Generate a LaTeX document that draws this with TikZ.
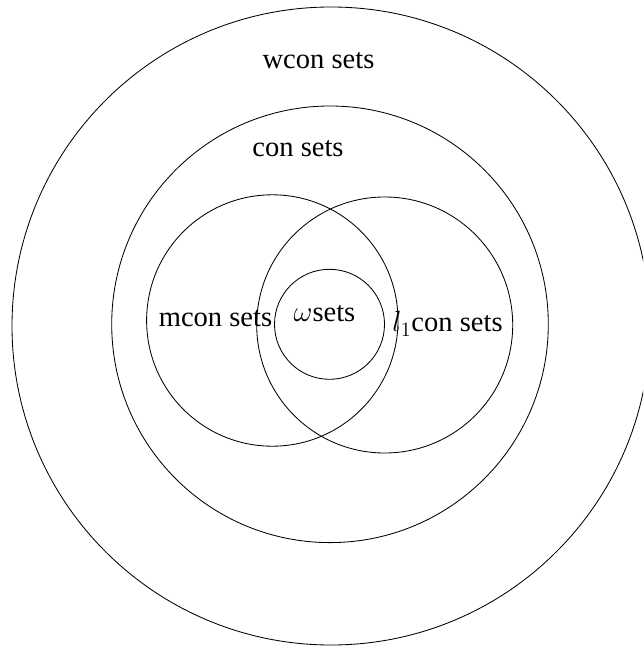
\documentclass[tikz,border=0pt]{standalone}
\usepackage{fontspec}
\setmainfont{Liberation Serif}
\usepackage{tikz}
\usetikzlibrary{positioning}

\tikzset{
    setline/.style={draw=black, line width=0.6pt},
    setlabel/.style={anchor=base, inner sep=0pt, font=\fontsize{20.3pt}{24pt}\selectfont}
}

\begin{document}
\begin{tikzpicture}[x=0.025cm, y=-0.025cm]
    % Page
    \clip (0,0) rectangle (643,648);

    % Centres
    \coordinate (wconC) at (331, 326);
    \coordinate (conC) at (330, 324.3);
    \coordinate (mconC) at (272.3, 320.5);
    \coordinate (lconC) at (384.7, 325);
    \coordinate (omegaC) at (329.5, 324.3);

    % Circles
    \draw[setline] (wconC) circle (319);
    \draw[setline] (conC) circle (218.3);
    \draw[setline] (mconC) circle (125.7);
    \draw[setline] (lconC) circle (128);
    \draw[setline] (omegaC) circle (55);

    % Labels
    \node[setlabel] (wcon) at (318.5, 68.3) {wcon sets};
    \node[setlabel] (con) at (298, 156.7) {con sets};
    \node[setlabel] (mcon) at (215.5, 326) {mcon sets};
    \node[setlabel] (omega) at (324.5, 321.7) {$\omega$sets};
    \node[setlabel] (lcon) at (447.5, 331.7) {$l_1$con sets};
\end{tikzpicture}
\end{document}
